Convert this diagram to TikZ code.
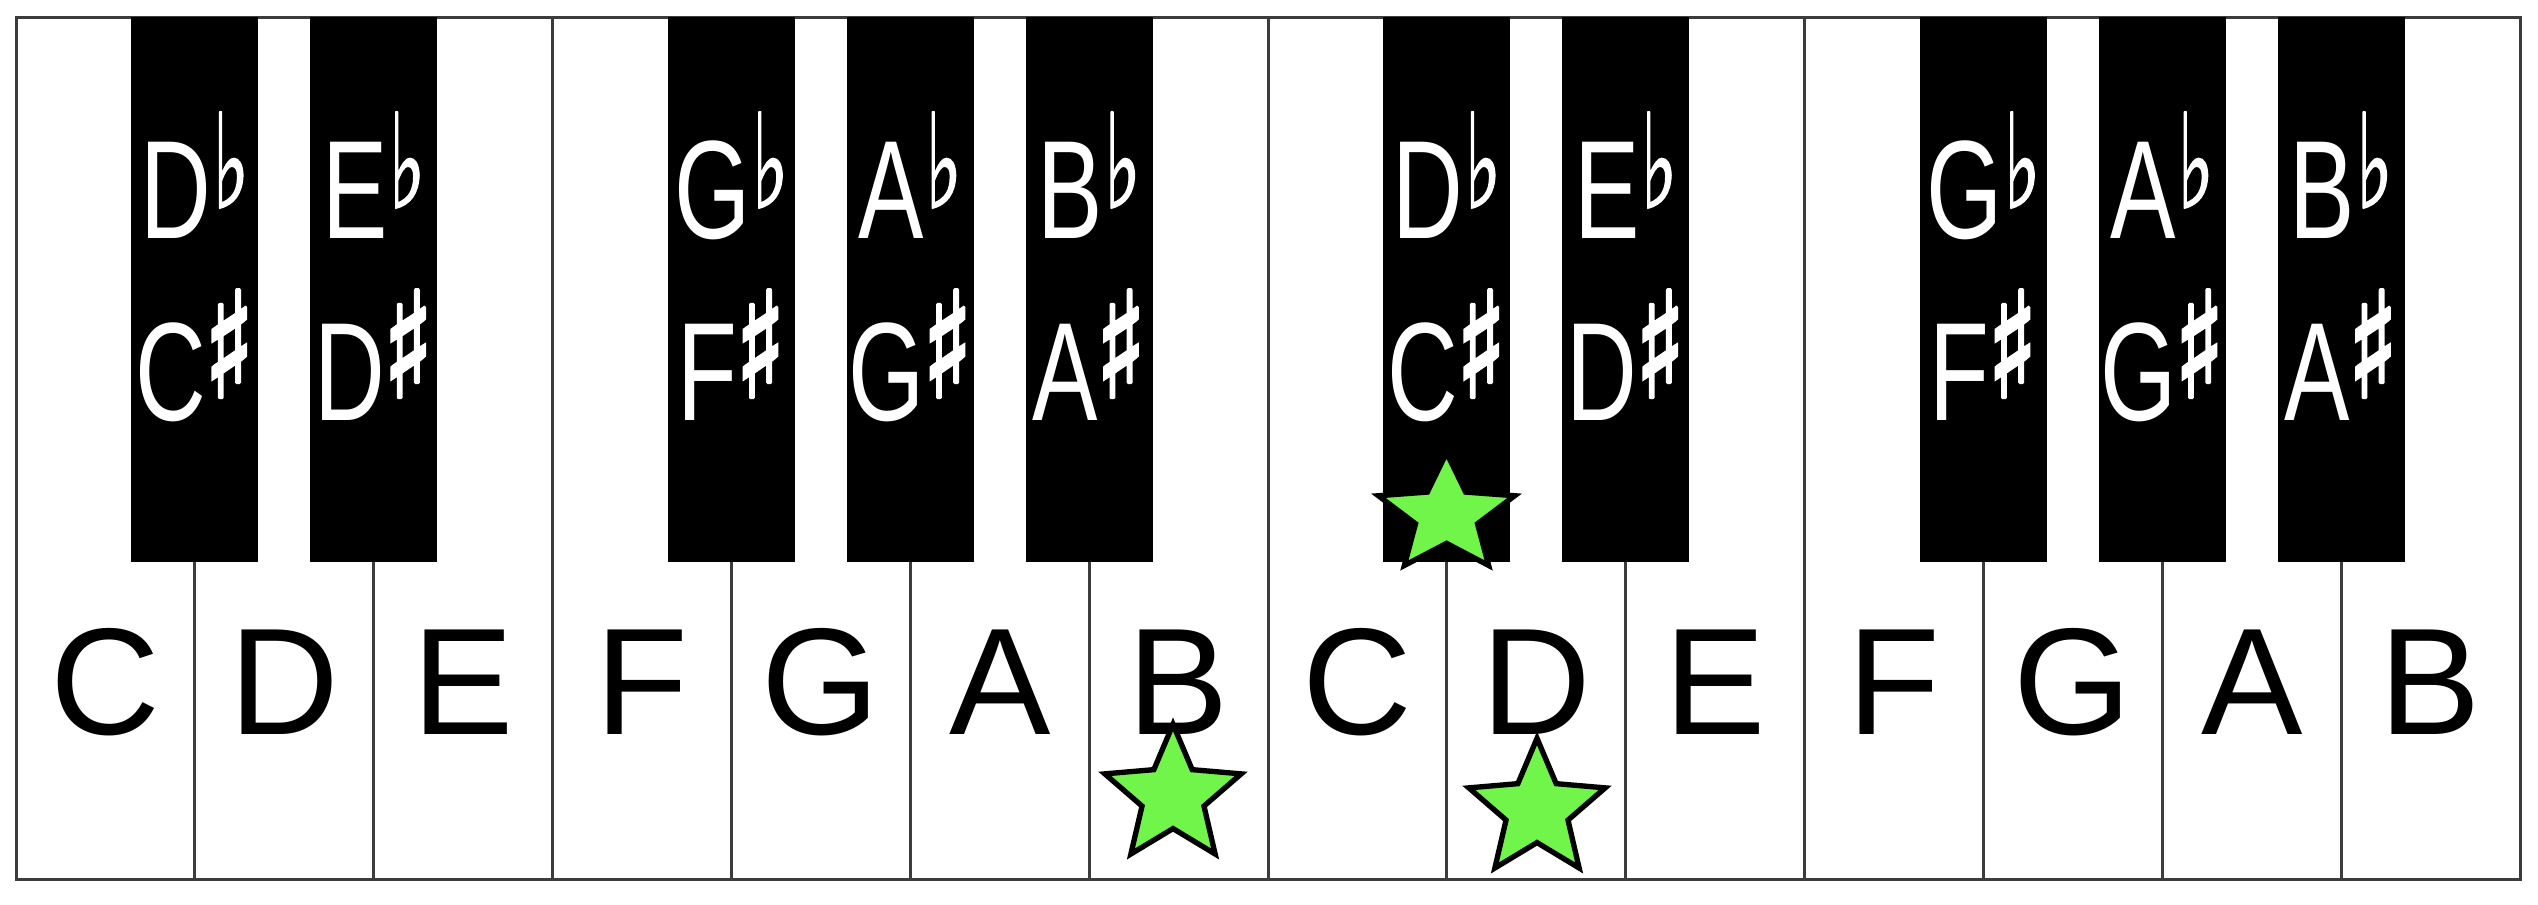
\documentclass[tikz,border=0pt]{standalone}
\usepackage{graphicx}
\usepackage{fontspec}
\setmainfont{Liberation Sans}
\newfontfamily\narrowfont[FakeStretch=0.7]{Liberation Sans}
\newfontfamily\symfont[FakeBold=1.5]{DejaVu Sans}
\newfontfamily\symboldfont[FakeBold=3]{DejaVu Sans}
\usetikzlibrary{shapes.geometric}
\definecolor{keyline}{HTML}{3C3C3C}
\definecolor{stargreen}{HTML}{72F54A}
\newcommand{\flatsym}{\hspace{0.4pt}\raisebox{9pt}{\resizebox*{11pt}{28.8pt}{\raisebox{\depth}{\symfont ♭}}}}
\newcommand{\sharpsym}{\hspace{-0.6pt}\raisebox{6.9pt}{\resizebox*{15pt}{32pt}{\raisebox{\depth}{\symboldfont ♯}}}}
\begin{document}
\begin{tikzpicture}[x=0.3pt,y=-0.3pt,
  whitekey/.style={draw=keyline, line width=0.9pt, fill=white},
  blackkey/.style={fill=black},
  wlabel/.style={font=\fontsize{45.6pt}{50pt}\selectfont, anchor=base, inner sep=0pt},
  blabel/.style={font=\narrowfont\fontsize{42pt}{46pt}\selectfont, text=white, anchor=base, inner sep=0pt},
  staricon/.style={star, star points=5, star point ratio=2.2, draw=black, line width=1.6pt,
    fill=stargreen, inner sep=0pt, minimum size=43pt}]
\useasboundingbox[fill=white] (0,0) rectangle (2538,904);
% white keys
\foreach \i in {0,...,13}{
  \draw[whitekey] ({16+\i*178.857},17) rectangle ({16+(\i+1)*178.857},879);
}
% black keys
\foreach \b in {1,2,4,5,6,8,9,11,12,13}{
  \fill[blackkey] ({16+\b*178.857-63.5},17) rectangle ({16+\b*178.857+63.5},562);
}
% white key labels
\foreach \i/\n in {0/C,1/D,2/E,3/F,4/G,5/A,6/B,7/C,8/D,9/E,10/F,11/G,12/A,13/B}{
  \node[wlabel] (wl\i) at ({16+(\i+0.5)*178.857},734) {\n};
}
% black key labels
\foreach \b/\ft/\sh in {1/D/C,2/E/D,4/G/F,5/A/G,6/B/A,8/D/C,9/E/D,11/G/F,12/A/G,13/B/A}{
  \node[blabel] (fl\b) at ({16+\b*178.857},238) {\ft\flatsym};
  \node[blabel] (sh\b) at ({16+\b*178.857},420) {\sh\sharpsym};
}
% stars
\node[staricon, yscale=0.87, transform shape] (s1) at (1446.5,515) {};
\node[staricon] (s2) at (1537,810) {};
\node[staricon] (s3) at (1173,796) {};
\end{tikzpicture}
\end{document}
